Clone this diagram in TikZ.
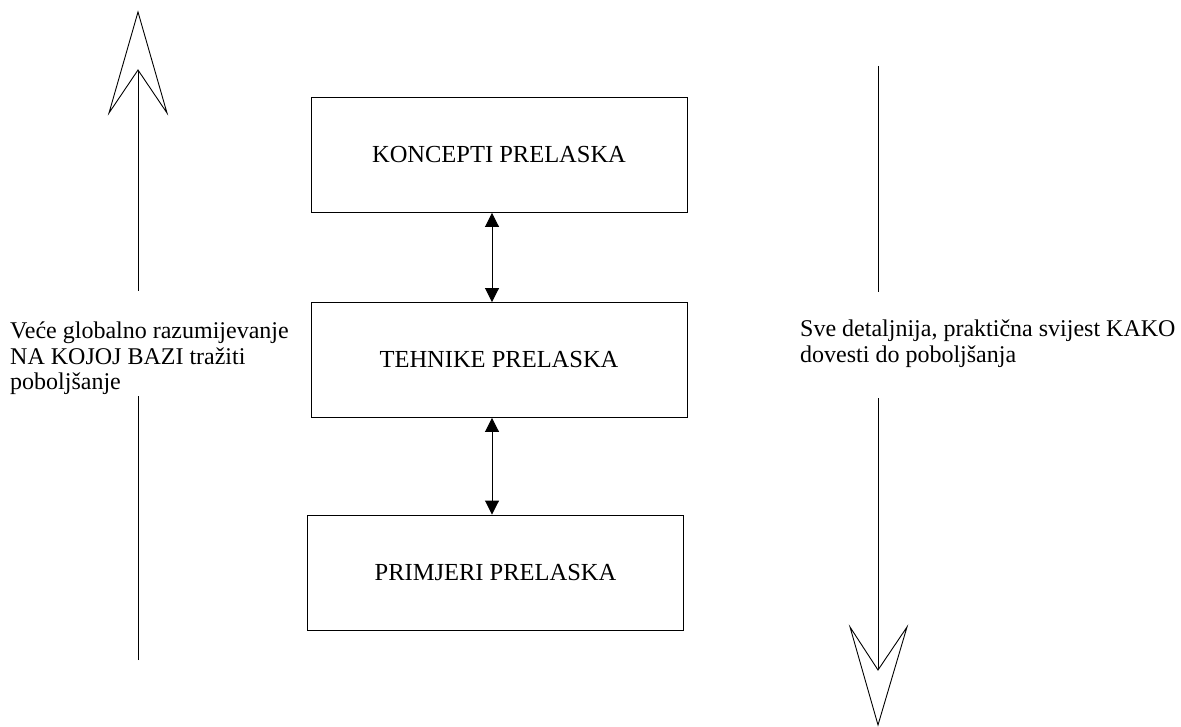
\documentclass[tikz,border=0pt]{standalone}
\usepackage{fontspec}
\setmainfont{Liberation Serif}
\usetikzlibrary{arrows.meta}
\begin{document}
\begin{tikzpicture}[x=1pt,y=-1pt,
  box/.style={draw,line width=0.9pt,minimum width=376pt,minimum height=115pt,inner sep=0pt,font=\fontsize{24.5}{28}\selectfont},
  lbl/.style={align=left,inner sep=0pt,font=\fontsize{24}{25.5}\selectfont},
  conn/.style={line width=0.9pt,{Triangle[length=14pt,width=14pt]}-{Triangle[length=14pt,width=14pt]}},
  bigline/.style={line width=0.9pt},
  openhead/.style={line width=0.9pt,fill=white,line join=miter}]
\useasboundingbox (0,0) rectangle (1181,727);
% boxes
\node[box] (k) at (499,155) {KONCEPTI PRELASKA};
\node[box] (t) at (499,360) {TEHNIKE PRELASKA};
\node[box] (p) at (495.5,572.5) {PRIMJERI PRELASKA};
% connectors
\draw[conn] (k.south -| 492,0) -- (t.north -| 492,0);
\draw[conn] (t.south -| 492,0) -- (p.north -| 492,0);
% left label and arrow
\node[lbl,anchor=north west] (lt) at (10,322) {Veće globalno razumijevanje\\NA KOJOJ BAZI tražiti\\poboljšanje};
\coordinate (lb) at (138,660);
\coordinate (lg1) at (138,396);
\coordinate (lg2) at (138,291);
\coordinate (ln) at (138,70);
\draw[bigline] (lb) -- (lg1);
\draw[bigline] (lg2) -- (ln);
\draw[openhead] (138,12) -- (109,113) -- (ln) -- (167,113) -- cycle;
% right label and arrow
\node[lbl,anchor=north west] (rt) at (800,320) {Sve detaljnija, praktična svijest KAKO\\dovesti do poboljšanja};
\coordinate (rtop) at (878,66);
\coordinate (rg1) at (878,292);
\coordinate (rg2) at (878,398);
\coordinate (rn) at (878,670);
\draw[bigline] (rtop) -- (rg1);
\draw[bigline] (rg2) -- (rn);
\draw[openhead] (878,725) -- (850,627) -- (rn) -- (907,627) -- cycle;
\end{tikzpicture}
\end{document}
